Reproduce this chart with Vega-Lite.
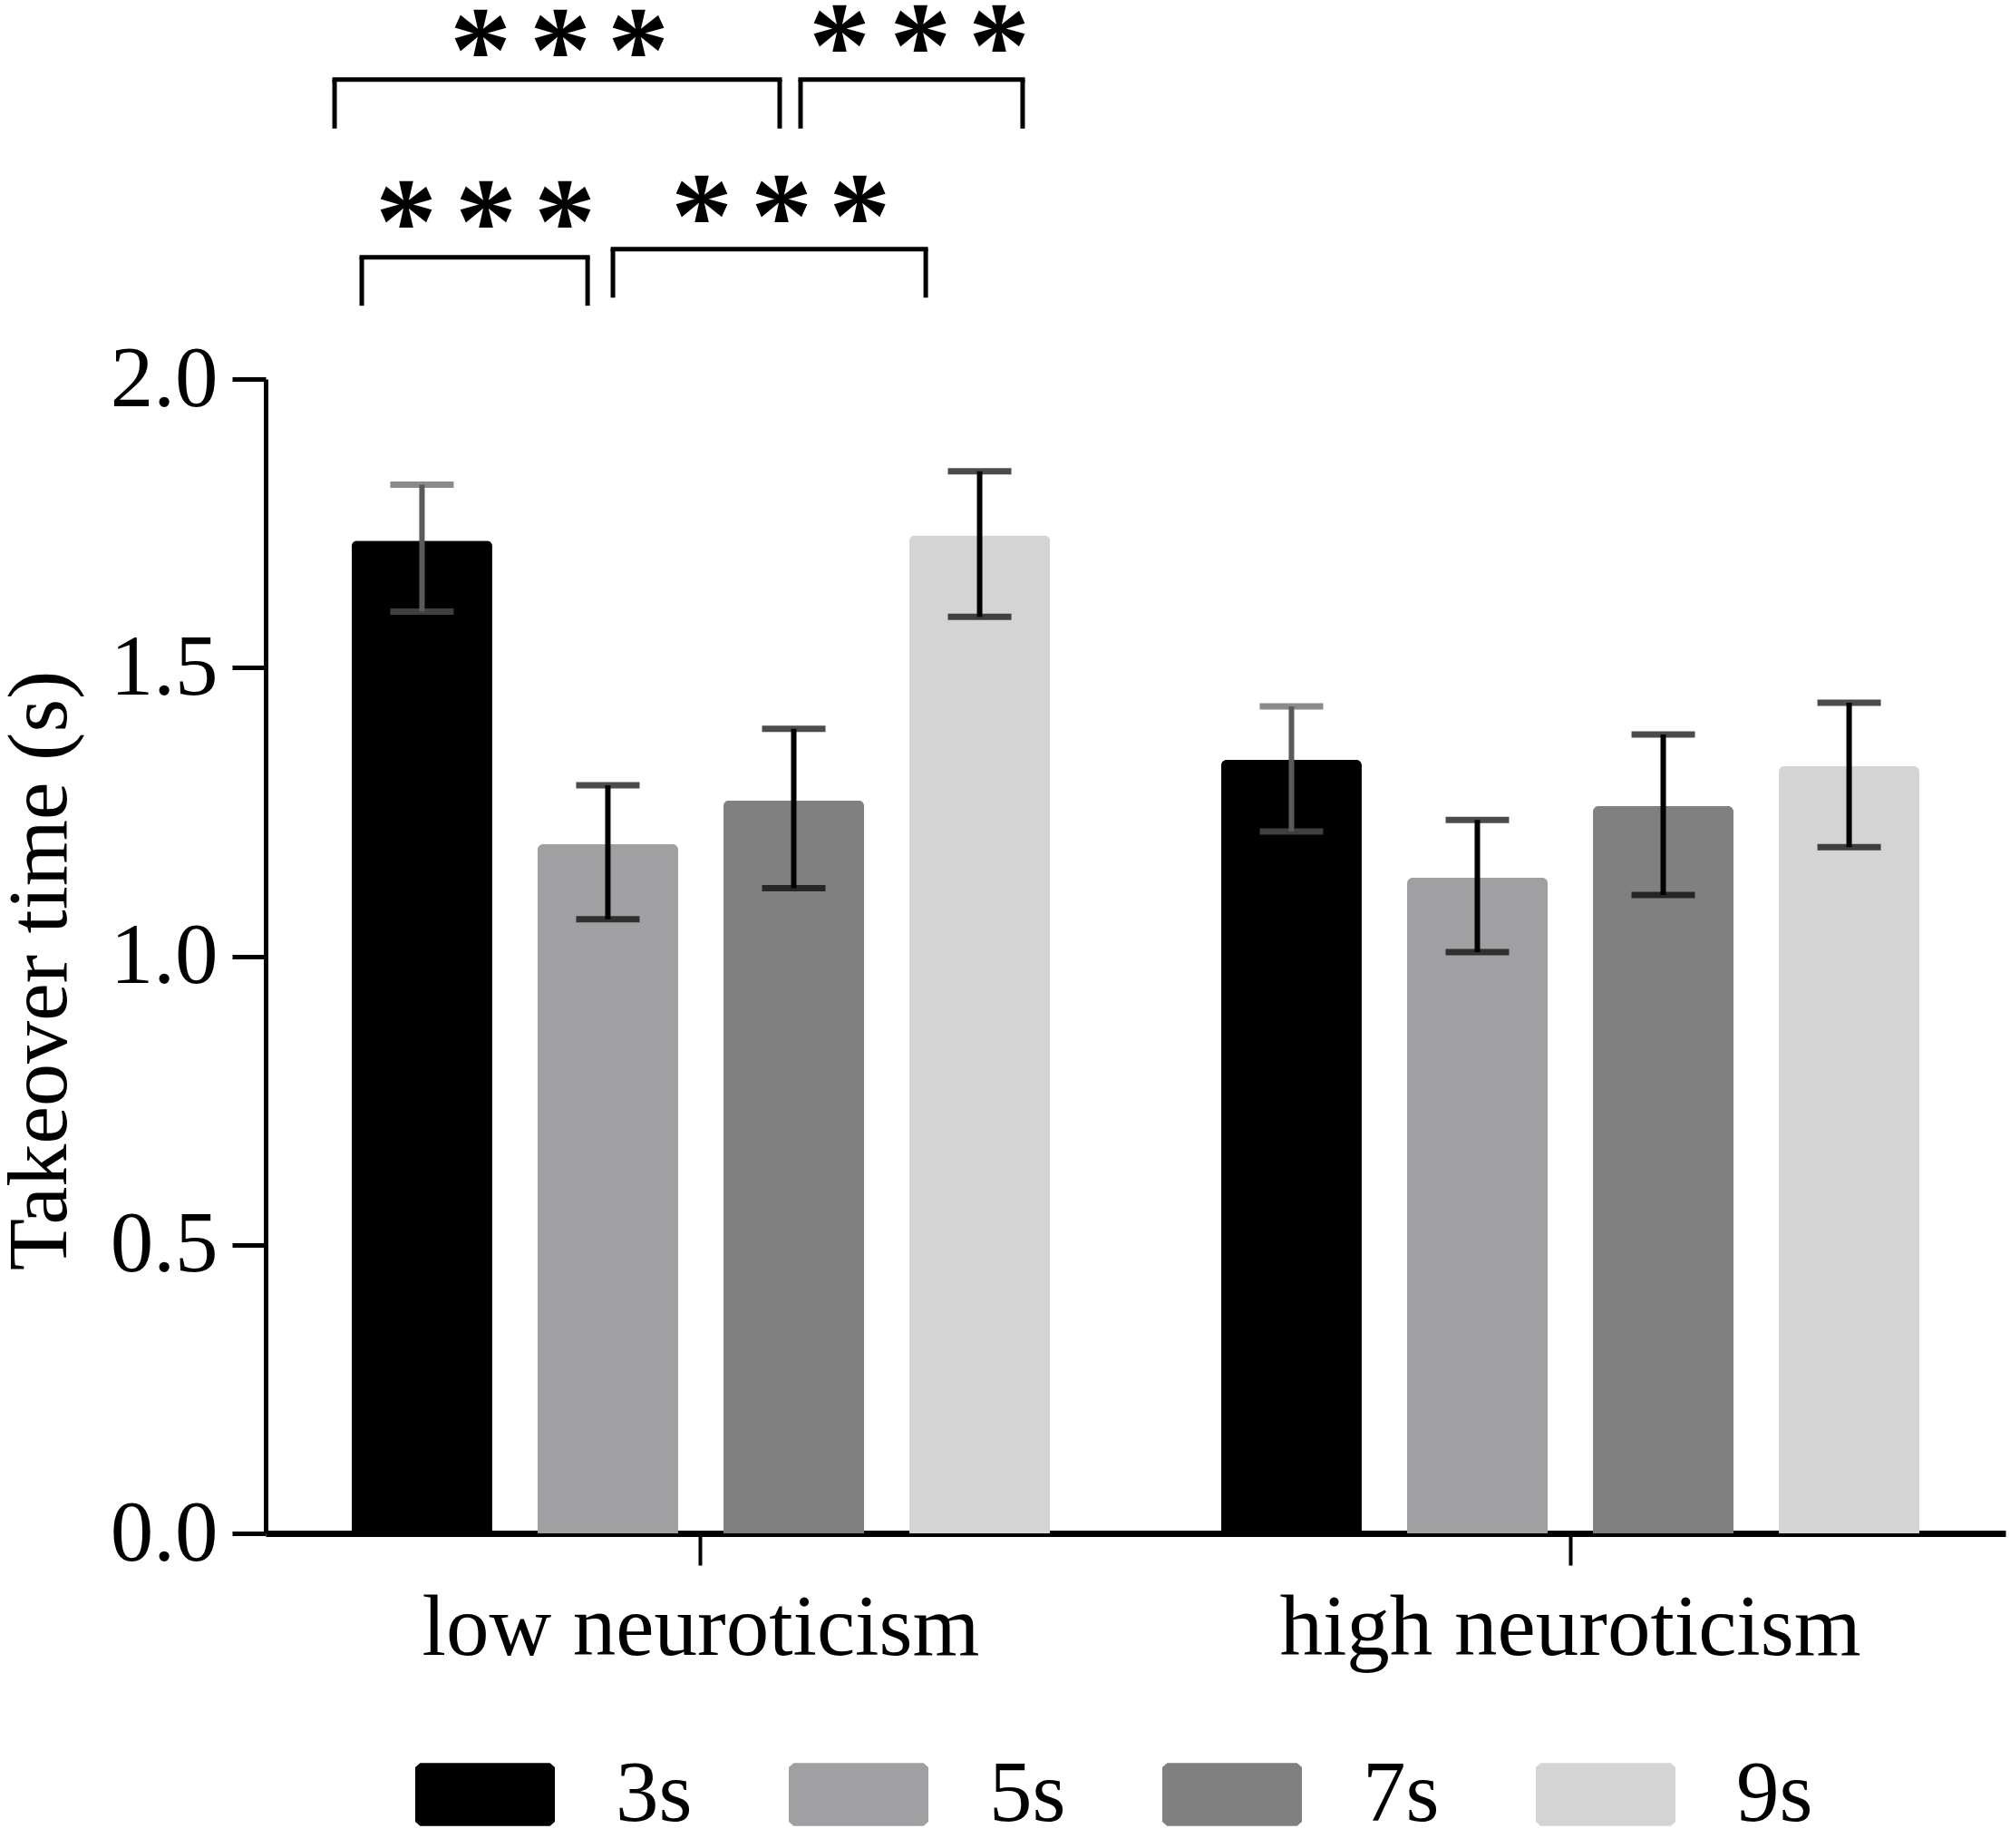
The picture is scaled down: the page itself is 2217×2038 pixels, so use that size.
{
  "$schema": "https://vega.github.io/schema/vega-lite/v6.json",
  "description": "Takeover time by neuroticism group and TOR lead time, with significance brackets.",
  "autosize": {"type": "none"},
  "padding": {"left": 293, "top": 418, "right": 5, "bottom": 347},
  "width": 1919,
  "height": 1273,
  "background": "white",
  "config": {
    "view": {"stroke": null},
    "font": "Liberation Serif",
    "axis": {
      "labelFont": "Liberation Serif",
      "titleFont": "Liberation Serif",
      "labelColor": "black",
      "titleColor": "black",
      "domainColor": "black",
      "tickColor": "black",
      "grid": false
    }
  },
  "datasets": {
    "bars": [
      {"group": "low neuroticism", "cond": "3s", "mean": 1.720, "lo": 1.597, "hi": 1.817},
      {"group": "low neuroticism", "cond": "5s", "mean": 1.194, "lo": 1.064, "hi": 1.296},
      {"group": "low neuroticism", "cond": "7s", "mean": 1.270, "lo": 1.118, "hi": 1.394},
      {"group": "low neuroticism", "cond": "9s", "mean": 1.729, "lo": 1.588, "hi": 1.840},
      {"group": "high neuroticism", "cond": "3s", "mean": 1.340, "lo": 1.216, "hi": 1.433},
      {"group": "high neuroticism", "cond": "5s", "mean": 1.136, "lo": 1.007, "hi": 1.236},
      {"group": "high neuroticism", "cond": "7s", "mean": 1.260, "lo": 1.106, "hi": 1.384},
      {"group": "high neuroticism", "cond": "9s", "mean": 1.329, "lo": 1.189, "hi": 1.439}
    ],
    "brackets": [
      {"pair": "3s-7s", "x1": -0.455, "x2": 1.934, "top": 2.519, "bot": 2.434},
      {"pair": "7s-9s", "x1": 2.046, "x2": 3.238, "top": 2.519, "bot": 2.434},
      {"pair": "3s-5s", "x1": -0.309, "x2": 0.903, "top": 2.211, "bot": 2.127},
      {"pair": "5s-9s", "x1": 1.039, "x2": 2.718, "top": 2.225, "bot": 2.141}
    ],
    "stars": [
      {"pair": "3s-7s", "pos": 0.328, "y": 2.597},
      {"pair": "3s-7s", "pos": 0.757, "y": 2.597},
      {"pair": "3s-7s", "pos": 1.175, "y": 2.597},
      {"pair": "7s-9s", "pos": 2.255, "y": 2.605},
      {"pair": "7s-9s", "pos": 2.689, "y": 2.605},
      {"pair": "7s-9s", "pos": 3.112, "y": 2.605},
      {"pair": "3s-5s", "pos": -0.071, "y": 2.300},
      {"pair": "3s-5s", "pos": 0.358, "y": 2.300},
      {"pair": "3s-5s", "pos": 0.781, "y": 2.300},
      {"pair": "5s-9s", "pos": 1.516, "y": 2.309},
      {"pair": "5s-9s", "pos": 1.944, "y": 2.309},
      {"pair": "5s-9s", "pos": 2.363, "y": 2.309}
    ]
  },
  "layer": [
    {
      "data": {"name": "bars"},
      "encoding": {
        "x": {
          "field": "group",
          "type": "nominal",
          "sort": ["low neuroticism", "high neuroticism"],
          "scale": {"paddingInner": 0.197, "paddingOuter": 0.099},
          "axis": {
            "title": null,
            "labelAngle": 0,
            "labelFontSize": 95,
            "labelPadding": 23,
            "labelLimit": 0,
            "tickSize": 35,
            "tickWidth": 4,
            "domainWidth": 7
          }
        },
        "xOffset": {
          "field": "cond",
          "type": "nominal",
          "sort": ["3s", "5s", "7s", "9s"],
          "scale": {"paddingInner": 0.244, "paddingOuter": 0}
        }
      },
      "layer": [
        {
          "mark": {"type": "bar", "cornerRadiusTopLeft": 6, "cornerRadiusTopRight": 6},
          "encoding": {
            "y": {
              "field": "mean",
              "type": "quantitative",
              "scale": {"domain": [0, 2], "nice": false},
              "axis": {
                "title": "Takeover time (s)",
                "values": [0, 0.5, 1, 1.5, 2],
                "format": ".1f",
                "labelFontSize": 95,
                "labelPadding": 16,
                "tickSize": 37,
                "tickWidth": 5,
                "domainWidth": 5,
                "titleFontSize": 94,
                "titleFontWeight": "normal",
                "titleAngle": 270,
                "titleAlign": "center",
                "titleBaseline": "alphabetic",
                "titleX": -221,
                "titleY": 652
              }
            },
            "color": {
              "field": "cond",
              "type": "nominal",
              "scale": {
                "domain": ["3s", "5s", "7s", "9s"],
                "range": ["#000000", "#a0a0a3", "#808080", "#d4d4d4"]
              },
              "legend": {
                "title": null,
                "orient": "none",
                "legendX": 165,
                "legendY": 1484,
                "direction": "horizontal",
                "columns": 4,
                "columnPadding": 106,
                "padding": 0,
                "labelFont": "Liberation Serif",
                "labelFontSize": 95,
                "labelColor": "black",
                "labelOffset": 67,
                "labelLimit": 0,
                "symbolType": "M-0.93,-0.45L0.93,-0.45L1,-0.39L1,0.39L0.93,0.45L-0.93,0.45L-1,0.39L-1,-0.39Z",
                "symbolSize": 23716,
                "symbolStrokeWidth": 0,
                "symbolOpacity": 1
              }
            }
          }
        },
        {
          "mark": {"type": "rule", "strokeWidth": 6},
          "encoding": {
            "y": {"field": "lo", "type": "quantitative", "scale": {"domain": [0, 2], "nice": false}},
            "y2": {"field": "hi"},
            "color": {"condition": {"test": "datum.cond === '3s'", "value": "#5a5a5a"}, "value": "#000000"}
          }
        },
        {
          "mark": {"type": "tick", "size": 70, "thickness": 7},
          "encoding": {
            "y": {"field": "hi", "type": "quantitative", "scale": {"domain": [0, 2], "nice": false}},
            "color": {"condition": {"test": "datum.cond === '3s'", "value": "#5a5a5a"}, "value": "#000000"}
          }
        },
        {
          "mark": {"type": "tick", "size": 70, "thickness": 7},
          "encoding": {
            "y": {"field": "lo", "type": "quantitative", "scale": {"domain": [0, 2], "nice": false}},
            "color": {"condition": {"test": "datum.cond === '3s'", "value": "#5a5a5a"}, "value": "#000000"}
          }
        }
      ]
    },
    {
      "layer": [
        {
          "data": {"name": "brackets"},
          "mark": {"type": "rule", "strokeWidth": 5, "color": "black", "strokeCap": "square"},
          "encoding": {
            "x": {"field": "x1", "type": "quantitative", "scale": {"domain": [-0.825, 8.513], "nice": false, "zero": false}, "axis": null},
            "x2": {"field": "x2"},
            "y": {"field": "top", "type": "quantitative", "scale": {"domain": [0, 2], "nice": false}}
          }
        },
        {
          "data": {"name": "brackets"},
          "mark": {"type": "rule", "strokeWidth": 5, "color": "black"},
          "encoding": {
            "x": {"field": "x1", "type": "quantitative", "scale": {"domain": [-0.825, 8.513], "nice": false, "zero": false}, "axis": null},
            "y": {"field": "top", "type": "quantitative", "scale": {"domain": [0, 2], "nice": false}},
            "y2": {"field": "bot"}
          }
        },
        {
          "data": {"name": "brackets"},
          "mark": {"type": "rule", "strokeWidth": 5, "color": "black"},
          "encoding": {
            "x": {"field": "x2", "type": "quantitative", "scale": {"domain": [-0.825, 8.513], "nice": false, "zero": false}, "axis": null},
            "y": {"field": "top", "type": "quantitative", "scale": {"domain": [0, 2], "nice": false}},
            "y2": {"field": "bot"}
          }
        },
        {
          "data": {"name": "stars"},
          "mark": {"type": "text", "text": "*", "font": "Liberation Serif", "fontSize": 136, "fontWeight": "bold", "color": "black", "align": "center", "baseline": "middle", "dy": 21},
          "encoding": {
            "x": {"field": "pos", "type": "quantitative", "scale": {"domain": [-0.825, 8.513], "nice": false, "zero": false}, "axis": null},
            "y": {"field": "y", "type": "quantitative", "scale": {"domain": [0, 2], "nice": false}}
          }
        }
      ]
    }
  ],
  "resolve": {"scale": {"x": "independent"}}
}
